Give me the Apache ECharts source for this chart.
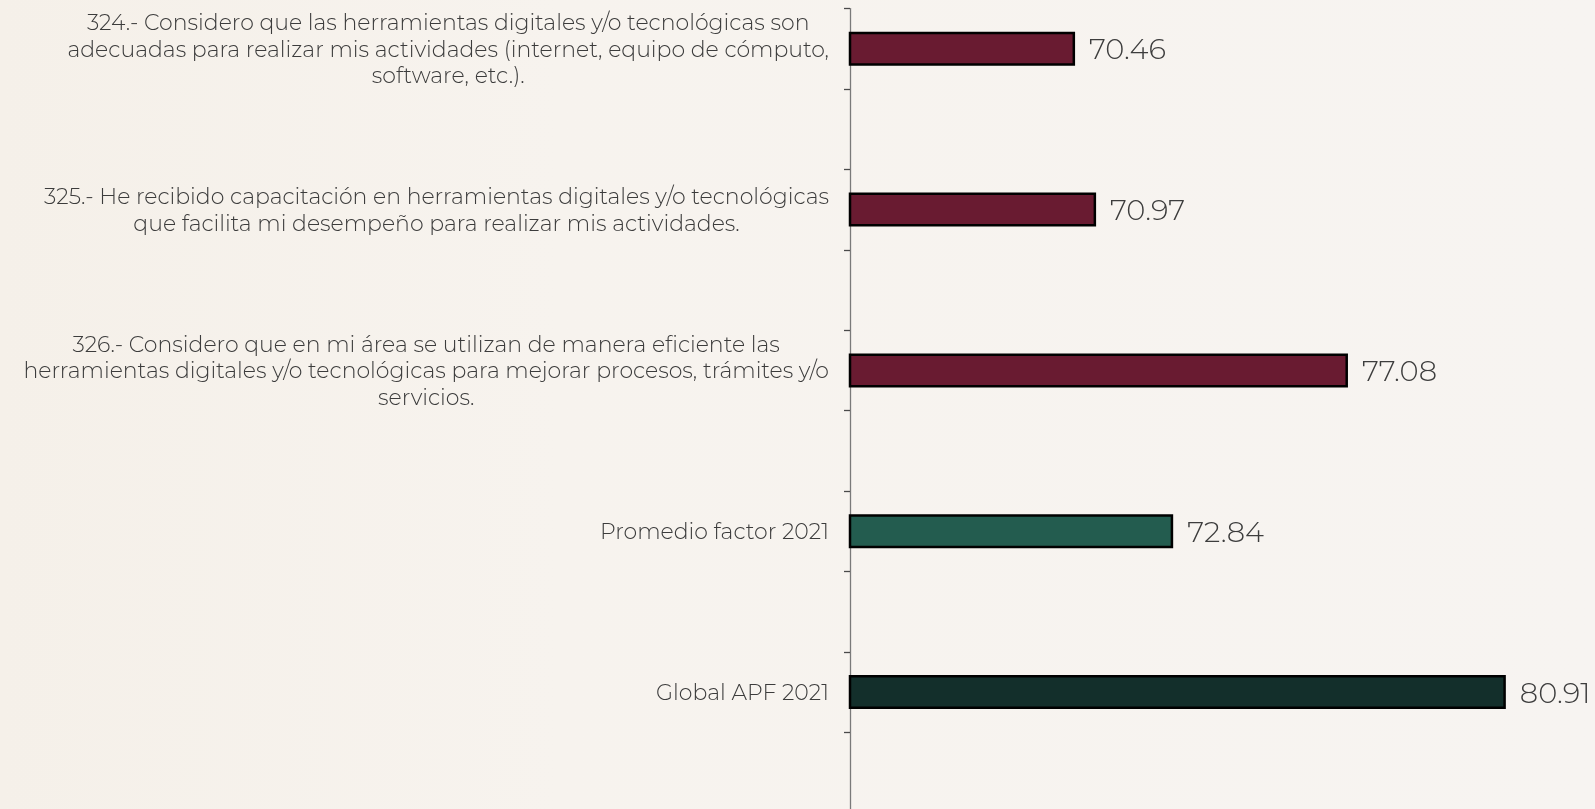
<!DOCTYPE html>
<html>
<head>
<meta charset="utf-8">
<script src="https://cdn.jsdelivr.net/npm/echarts@6/dist/echarts.min.js"></script>
<style>
html,body{margin:0;padding:0;background:#f7f4f0;overflow:hidden;width:1595px;height:809px;}
#chart{width:1595px;height:820px;}
</style>
</head>
<body>
<div id="chart"></div>
<script>
var categories = [
  '324.- Considero que las herramientas digitales y/o tecnológicas son\nadecuadas para realizar mis actividades (internet, equipo de cómputo,\nsoftware, etc.).',
  '325.- He recibido capacitación en herramientas digitales y/o tecnológicas\nque facilita mi desempeño para realizar mis actividades.',
  '326.- Considero que en mi área se utilizan de manera eficiente las\nherramientas digitales y/o tecnológicas para mejorar procesos, trámites y/o\nservicios.',
  'Promedio factor 2021',
  'Global APF 2021'
];
var values = [70.46, 70.97, 77.08, 72.84, 80.91];
var barColors = ['#691b31', '#691b31', '#691b31', '#235c4f', '#132f2b'];

// each category occupies every other slot of the axis (blank slot after each one)
var axisCats = [];
var seriesData = [];
categories.forEach(function (c, i) {
  axisCats.push(c);
  axisCats.push('');
  seriesData.push({ value: values[i], itemStyle: { color: barColors[i] } });
  seriesData.push('-');
});

var FONT = 'Montserrat, Lato, sans-serif';
var chart = echarts.init(document.getElementById('chart'));
chart.setOption({
  backgroundColor: {
    type: 'linear', x: 0, y: 0, x2: 1, y2: 0,
    colorStops: [
      { offset: 0, color: '#f5f0e9' },
      { offset: 0.35, color: '#f7f3ee' },
      { offset: 1, color: '#f7f4f1' }
    ]
  },
  animation: false,
  grid: { left: 850, top: 8.6, width: 742, height: 804, containLabel: false },
  xAxis: { type: 'value', min: 65, max: 83, show: false },
  yAxis: {
    type: 'category',
    inverse: true,
    data: axisCats,
    axisLine: { show: true, lineStyle: { color: '#7a7a7a', width: 1.3 } },
    axisTick: { show: true, length: 6, lineStyle: { color: '#4a4a4a', width: 1.3 } },
    splitLine: { show: false },
    axisLabel: {
      margin: 21,
      padding: [3, 0, 0, 0],
      fontFamily: FONT,
      fontWeight: 300,
      fontSize: 22,
      lineHeight: 26.4,
      color: '#3c3c3c',
      formatter: function (v) { return v ? '{c|' + v + '}' : ''; },
      rich: {
        c: { align: 'center', fontFamily: FONT, fontWeight: 300, fontSize: 22, lineHeight: 26.4, color: '#3c3c3c' }
      }
    }
  },
  series: [{
    type: 'bar',
    data: seriesData,
    barWidth: 34,
    itemStyle: { borderColor: '#000', borderWidth: 2.5 },
    label: {
      show: true,
      position: 'right',
      distance: 14,
      offset: [0, 2],
      fontFamily: FONT,
      fontWeight: 300,
      fontSize: 29,
      color: '#3d3d3d',
      formatter: function (p) { return p.value.toFixed(2); }
    }
  }]
});
</script>
</body>
</html>
